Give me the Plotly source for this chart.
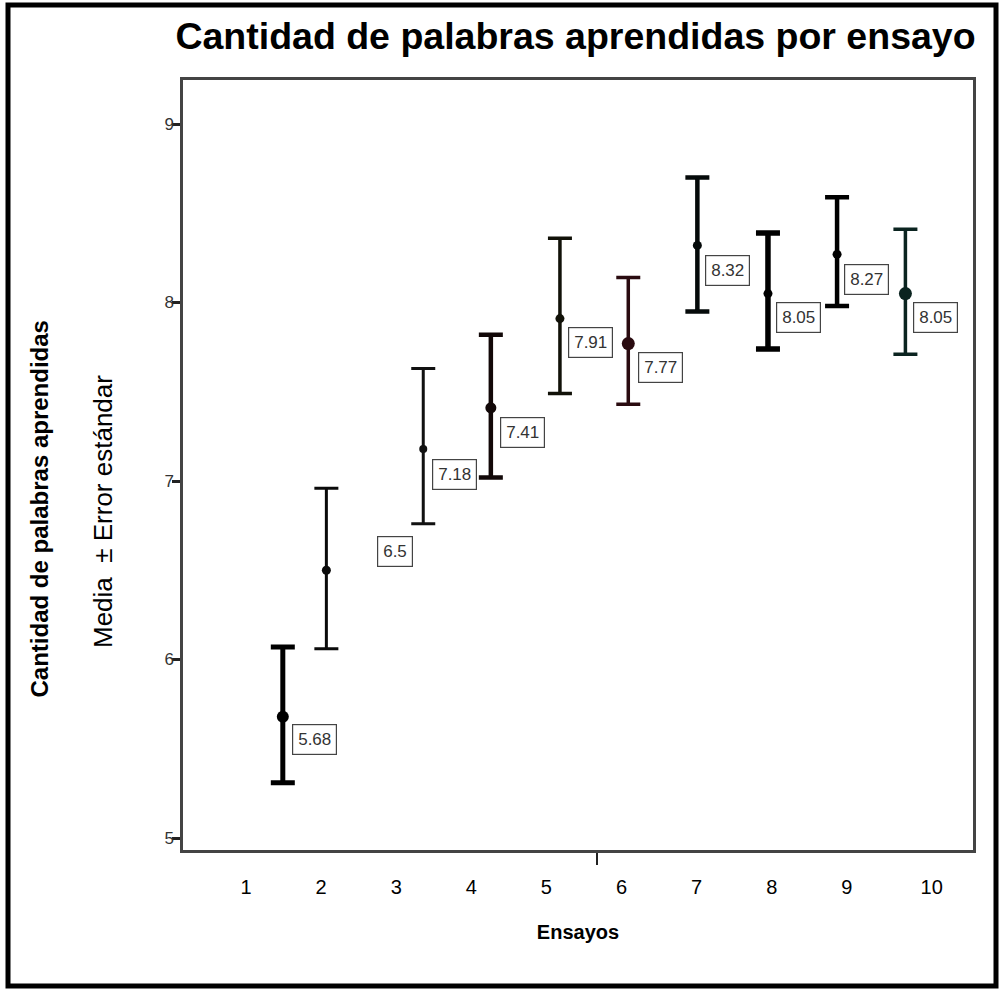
import plotly.graph_objects as go

# ---- data ----
trials = [1, 2, 3, 4, 5, 6, 7, 8, 9, 10]
# horizontal position of each mean, read on the trial-label scale of the picture
point_pos = [1.49, 2.07, 3.36, 4.26, 5.18, 6.09, 7.01, 7.95, 8.87, 9.78]
means = [5.68, 6.50, 7.18, 7.41, 7.91, 7.77, 8.32, 8.05, 8.27, 8.05]
upper = [6.07, 6.96, 7.63, 7.82, 8.36, 8.14, 8.70, 8.39, 8.59, 8.41]
lower = [5.31, 6.06, 6.76, 7.02, 7.49, 7.43, 7.95, 7.74, 7.98, 7.71]
value_labels = ["5.68", "6.5", "7.18", "7.41", "7.91", "7.77", "8.32", "8.05", "8.27", "8.05"]
tick_pos = [1, 2, 3, 4, 5, 6, 7, 8, 9, 10.13]
tick_labels = ["1", "2", "3", "4", "5", "6", "7", "8", "9", "10"]
y_ticks = [5, 6, 7, 8, 9]
mid_tick = [5.67]

# ---- style ----
bar_colors = ["#000000", "#0a0a0a", "#111111", "#120808", "#111108",
              "#2a0b10", "#050a0a", "#000000", "#000000", "#0b2420"]
bar_widths = [5, 3, 3, 4.5, 3.5, 3.5, 4.5, 5.5, 4.5, 3.5]
marker_sizes = [12, 9, 8, 11, 9, 13, 9, 9, 9, 13]
label_dx = [9, 51, 9, 9, 8, 10, 8, 8, 7, 8]
label_dy = [-23, 19, -26, -25, -24, -24, -25, -24, -25, -24]
FONT = "Liberation Sans, Arial"

W, H = 999, 989
L, R, T, B = 183, 26, 80, 139
pw, ph = W - L - R, H - T - B

fig = go.Figure()
for i in range(len(trials)):
    fig.add_trace(go.Scatter(
        x=[point_pos[i]], y=[means[i]], mode="markers",
        marker=dict(color=bar_colors[i], size=marker_sizes[i]),
        error_y=dict(type="data", symmetric=False,
                     array=[upper[i] - means[i]],
                     arrayminus=[means[i] - lower[i]],
                     color=bar_colors[i], thickness=bar_widths[i], width=12),
        showlegend=False, hoverinfo="skip"))
    fig.add_annotation(
        x=point_pos[i], y=means[i], xref="x", yref="y", text=value_labels[i],
        showarrow=False, xanchor="left", yanchor="middle",
        xshift=label_dx[i], yshift=label_dy[i],
        font=dict(family=FONT, size=17, color="#333333"),
        bordercolor="#444444", borderwidth=1.2, borderpad=5, bgcolor="white")

fig.update_layout(
    width=W, height=H,
    margin=dict(l=L, r=R, t=T, b=B),
    paper_bgcolor="white", plot_bgcolor="white",
    title=dict(text="<b>Cantidad de palabras aprendidas por ensayo</b>",
               x=575.5 / W, xanchor="center", y=1 - 36 / H, yanchor="middle",
               font=dict(family=FONT, size=37.5, color="black")),
    xaxis=dict(range=[0.161, 10.68], showgrid=False, zeroline=False,
               showline=True, linecolor="#444444", linewidth=2.5, mirror=True,
               tickmode="array", tickvals=tick_pos, ticktext=tick_labels,
               ticks="", ticklabelstandoff=17,
               tickfont=dict(family=FONT, size=20, color="black"),
               minor=dict(tickmode="array", tickvals=mid_tick, ticks="outside",
                          ticklen=12, tickwidth=2, tickcolor="#222222", showgrid=False),
               title=dict(text="<b>Ensayos</b>", standoff=29,
                          font=dict(family=FONT, size=20, color="black"))),
    yaxis=dict(range=[4.933, 9.2465], showgrid=False, zeroline=False,
               showline=True, linecolor="#444444", linewidth=2.5, mirror=True,
               tickmode="array", tickvals=y_ticks,
               ticks="outside", ticklen=8, tickwidth=3, tickcolor="#222222",
               ticklabelstandoff=-5,
               tickfont=dict(family=FONT, size=17, color="#333333")),
)

# rotated axis titles
fig.add_annotation(text="<b>Cantidad de palabras aprendidas</b>", textangle=-90,
                   xref="paper", yref="paper", x=(23 - L) / pw,
                   y=(H - B - 509) / ph, showarrow=False,
                   font=dict(family=FONT, size=24, color="black"))
fig.add_annotation(text="Media  \u00b1 Error estándar", textangle=-90,
                   xref="paper", yref="paper", x=(86 - L) / pw,
                   y=(H - B - 512) / ph, showarrow=False,
                   font=dict(family=FONT, size=26, color="black"))

# outer frame
fig.add_shape(type="rect", xref="paper", yref="paper",
              x0=(8 - L) / pw, x1=(996 - L) / pw,
              y0=(H - B - 986) / ph, y1=(H - B - 5) / ph,
              line=dict(color="black", width=5), fillcolor="rgba(0,0,0,0)")

fig.write_html("out.html", config={"displayModeBar": False},
               post_script="document.body.style.margin='0';document.body.style.overflow='hidden';")
